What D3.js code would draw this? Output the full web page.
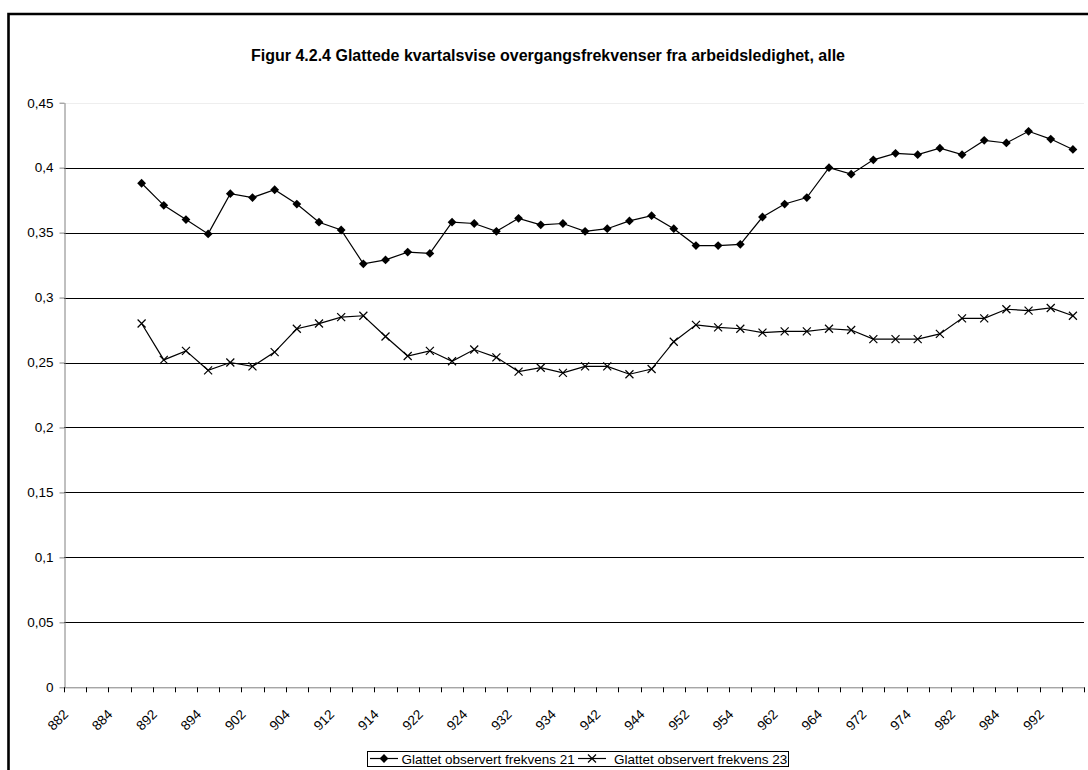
<!DOCTYPE html>
<html>
<head>
<meta charset="utf-8">
<script src="https://cdn.jsdelivr.net/npm/d3@7"></script>
<style>
  body { margin: 0; background: #fff; }
  text { font-family: Arial, "Liberation Sans", sans-serif; }
</style>
</head>
<body>
<div id="chart"></div>
<script>
// quarters: year (2 digits) + quarter
const categories = [
  "882","883","884",
  "891","892","893","894","901","902","903","904",
  "911","912","913","914","921","922","923","924",
  "931","932","933","934","941","942","943","944",
  "951","952","953","954","961","962","963","964",
  "971","972","973","974","981","982","983","984",
  "991","992","993"
]
const yTicks = [0, 0.05, 0.1, 0.15, 0.2, 0.25, 0.3, 0.35, 0.4, 0.45]
const seriesNames = ["Glattet observert frekvens 21", "Glattet observert frekvens 23"]

const frekvens21 = [null, null, null,
  0.388, 0.371, 0.360, 0.349, 0.380, 0.377, 0.383, 0.372,
  0.358, 0.352, 0.326, 0.329, 0.335, 0.334, 0.358, 0.357,
  0.351, 0.361, 0.356, 0.357, 0.351, 0.353, 0.359, 0.363,
  0.353, 0.340, 0.340, 0.341, 0.362, 0.372, 0.377, 0.400,
  0.395, 0.406, 0.411, 0.410, 0.415, 0.410, 0.421, 0.419,
  0.428, 0.422, 0.414]

const frekvens23 = [null, null, null,
  0.280, 0.252, 0.259, 0.244, 0.250, 0.247, 0.258, 0.276,
  0.280, 0.285, 0.286, 0.270, 0.255, 0.259, 0.251, 0.260,
  0.254, 0.243, 0.246, 0.242, 0.247, 0.247, 0.241, 0.245,
  0.266, 0.279, 0.277, 0.276, 0.273, 0.274, 0.274, 0.276,
  0.275, 0.268, 0.268, 0.268, 0.272, 0.284, 0.284, 0.291,
  0.290, 0.292, 0.286]

const W = 1088, H = 770
const plotLeft = 64, plotRight = 1084, plotTop = 102.7, plotBottom = 687.3

const svg = d3.select("#chart").append("svg")
  .attr("width", W).attr("height", H)

svg.append("rect").attr("width", W).attr("height", H).attr("fill", "#fff")

// outer frame (left and top edges visible)
svg.append("path")
  .attr("d", `M8.5,${H} L8.5,14 L${W},14`)
  .attr("fill", "none").attr("stroke", "#000").attr("stroke-width", 2.6)

const x = d3.scaleBand().domain(categories).range([plotLeft, plotRight]).padding(0)
const y = d3.scaleLinear().domain([0, 0.45]).range([plotBottom, plotTop])

// title
svg.append("text")
  .attr("x", 548).attr("y", 61)
  .attr("text-anchor", "middle")
  .style("font-size", "16px").style("font-weight", "bold")
  .text("Figur 4.2.4 Glattede kvartalsvise overgangsfrekvenser fra arbeidsledighet, alle")

// gridlines
svg.append("g").selectAll("line")
  .data(yTicks.filter(d => d > 0))
  .enter().append("line")
  .attr("x1", plotLeft).attr("x2", plotRight)
  .attr("y1", d => Math.round(y(d)) + 0.5).attr("y2", d => Math.round(y(d)) + 0.5)
  .attr("stroke", d => d === 0.45 ? "#eee" : "#000")
  .attr("stroke-width", 1)

// y axis
const fmt = d => d === 0 ? "0" : String(d).replace(".", ",")
const yAxis = svg.append("g")
  .attr("transform", `translate(${plotLeft + 0.5},0)`)
  .call(d3.axisLeft(y).tickValues(yTicks).tickFormat(fmt).tickSize(5).tickSizeOuter(0))
yAxis.select(".domain").attr("stroke", "#808080")
yAxis.selectAll(".tick line").attr("stroke", "#808080")
yAxis.selectAll(".tick text").attr("x", -11).style("font-size", "13.5px").attr("fill", "#000")

// x axis: ticks at band boundaries
const xg = svg.append("g")
xg.append("line")
  .attr("x1", plotLeft).attr("x2", plotRight)
  .attr("y1", plotBottom + 0.5).attr("y2", plotBottom + 0.5)
  .attr("stroke", "#808080")
xg.selectAll(".xtick")
  .data(categories.map(c => x(c)).concat([plotRight]))
  .enter().append("line")
  .attr("x1", d => Math.round(d) + 0.5).attr("x2", d => Math.round(d) + 0.5)
  .attr("y1", plotBottom).attr("y2", plotBottom + 5)
  .attr("stroke", "#000")
xg.selectAll(".xlab")
  .data(categories.filter((c, i) => i % 2 === 0))
  .enter().append("text")
  .attr("text-anchor", "end")
  .attr("transform", d => `translate(${x(d) + x.bandwidth() / 2 - 6},${plotBottom + 28}) rotate(-45)`)
  .style("font-size", "13.5px")
  .text(d => d)

// lines
const line = d3.line()
  .defined(d => d.v !== null)
  .x(d => x(d.c) + x.bandwidth() / 2)
  .y(d => y(d.v))

const s21 = categories.map((c, i) => ({ c, v: frekvens21[i] }))
const s23 = categories.map((c, i) => ({ c, v: frekvens23[i] }))

svg.append("path").datum(s21).attr("d", line)
  .attr("fill", "none").attr("stroke", "#000").attr("stroke-width", 1.2)
svg.append("path").datum(s23).attr("d", line)
  .attr("fill", "none").attr("stroke", "#000").attr("stroke-width", 1.2)

const diamond = "M0,-4.4L4.4,0L0,4.4L-4.4,0Z"
const cross = "M-4,-4L4,4M-4,4L4,-4"

svg.append("g").selectAll("path")
  .data(s21.filter(d => d.v !== null))
  .enter().append("path")
  .attr("d", diamond)
  .attr("transform", d => `translate(${x(d.c) + x.bandwidth() / 2},${y(d.v)})`)
  .attr("fill", "#000")

svg.append("g").selectAll("path")
  .data(s23.filter(d => d.v !== null))
  .enter().append("path")
  .attr("d", cross)
  .attr("transform", d => `translate(${x(d.c) + x.bandwidth() / 2},${y(d.v)})`)
  .attr("fill", "none").attr("stroke", "#000").attr("stroke-width", 1.2)

// legend
const lg = svg.append("g")
lg.append("rect")
  .attr("x", 367.5).attr("y", 751.5).attr("width", 421).attr("height", 15)
  .attr("fill", "#fff").attr("stroke", "#000")
const items = [
  { name: seriesNames[0], x0: 370, tx: 401.5, mark: diamond, fill: "#000", stroke: "none" },
  { name: seriesNames[1], x0: 578, tx: 614, mark: cross, fill: "none", stroke: "#000" }
]
items.forEach(it => {
  lg.append("line")
    .attr("x1", it.x0).attr("x2", it.x0 + 28)
    .attr("y1", 758.5).attr("y2", 758.5)
    .attr("stroke", "#000").attr("stroke-width", 1.2)
  lg.append("path").attr("d", it.mark)
    .attr("transform", `translate(${it.x0 + 14},758.5)`)
    .attr("fill", it.fill).attr("stroke", it.stroke).attr("stroke-width", 1.2)
  lg.append("text")
    .attr("x", it.tx).attr("y", 763.5)
    .style("font-size", "13.5px")
    .text(it.name)
})
</script>
</body>
</html>
